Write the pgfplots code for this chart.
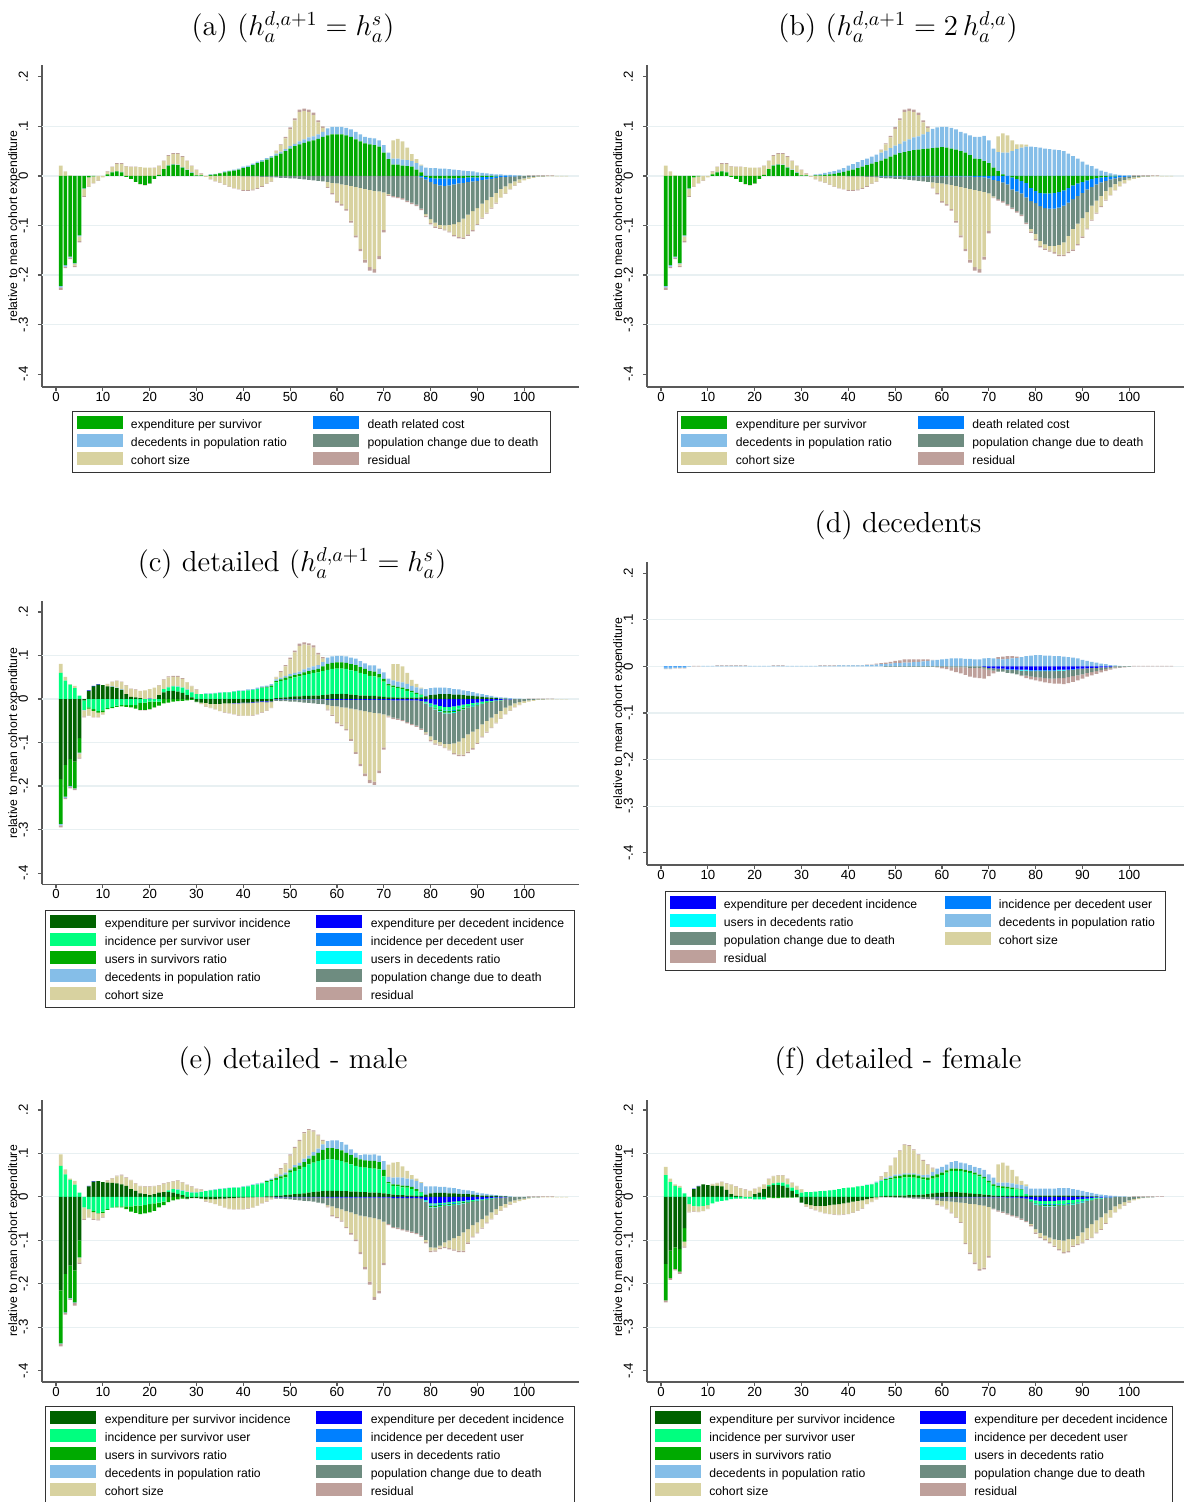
\documentclass[border=0pt]{standalone}
\usepackage{pgfplots}
\pgfplotsset{compat=1.18}
\usepackage{pgfplotstable}
\usepackage{fontspec}
\setsansfont{Liberation Sans}
\definecolor{cES}{RGB}{0,170,0}
\definecolor{cEI}{RGB}{0,98,0}
\definecolor{cIU}{RGB}{0,255,127}
\definecolor{cDI}{RGB}{0,0,255}
\definecolor{cDR}{RGB}{0,128,255}
\definecolor{cUD}{RGB}{0,255,255}
\definecolor{cDP}{RGB}{133,190,232}
\definecolor{cPC}{RGB}{110,140,128}
\definecolor{cCS}{RGB}{216,210,160}
\definecolor{cRE}{RGB}{190,160,155}
\definecolor{cGrid}{RGB}{232,240,242}
\newcommand\tkfont{\fontsize{6.6}{7.5}\sffamily}
\newcommand\legfont{\fontsize{6.1}{7}\sffamily}

\pgfplotstableread[row sep=\\]{
a es dr dp pc cs re\\
1 -222 0 -3 0 21 -5\\
2 -180 0 -3 0 9 -3\\
3 -163 0 -2 0 1 -3\\
4 -176 0 -1 0 -4 -3\\
5 -120 0 -2 0 -9 -3\\
6 -25 0 -1 0 -14 -2\\
7 -3 0 0 0 -18 -1\\
8 -1 0 0 0 -13 -1\\
9 0 0 0 0 -9 -1\\
10 0 0 0 0 -3 0\\
11 3 0 0 0 5 1\\
12 7 0 1 0 10 1\\
13 9 0 1 0 14 2\\
14 7 0 1 0 16 2\\
15 -2 0 0 0 19 1\\
16 -6 0 0 0 18 1\\
17 -12 0 0 0 18 1\\
18 -16 0 0 0 18 -1\\
19 -18 0 0 0 17 -1\\
20 -15 0 0 0 17 -1\\
21 -6 0 0 0 16 1\\
22 2 0 0 0 18 1\\
23 14 0 0 0 16 1\\
24 21 0 1 0 18 2\\
25 23 0 1 0 20 2\\
26 22 0 1 0 21 2\\
27 17 0 1 0 20 2\\
28 12 0 1 0 17 1\\
29 6 0 1 0 13 1\\
30 1 0 0 0 11 1\\
31 1 0 0 0 3 1\\
32 0 0 0 0 -2 0\\
33 2 0 1 0 -6 -1\\
34 3 0 1 0 -10 -1\\
35 5 0 1 0 -13 -1\\
36 7 0 2 0 -17 -1\\
37 9 0 2 0 -21 -1\\
38 11 0 2 0 -24 -1\\
39 13 0 2 0 -26 -1\\
40 16 0 3 -1 -27 -2\\
41 18 0 3 -1 -27 -2\\
42 22 0 3 -1 -26 -2\\
43 26 0 3 -1 -23 -2\\
44 29 0 3 -2 -18 -2\\
45 33 0 3 -2 -13 -1\\
46 37 0 3 -3 -8 -1\\
47 41 0 4 -3 5 1\\
48 45 0 4 -4 13 2\\
49 50 0 4 -4 22 3\\
50 55 0 5 -5 34 4\\
51 60 0 5 -5 47 4\\
52 64 0 6 -6 59 5\\
53 67 0 7 -7 57 5\\
54 70 0 8 -8 51 5\\
55 72 0 8 -9 43 5\\
56 75 0 9 -10 24 4\\
57 79 0 10 -11 8 3\\
58 82 0 14 -12 -10 -2\\
59 84 0 15 -14 -20 -3\\
60 84 0 15 -15 -36 -3\\
61 84 0 15 -17 -40 -3\\
62 82 0 15 -18 -49 -3\\
63 79 0 15 -20 -70 -4\\
64 74 0 15 -22 -98 -4\\
65 70 0 14 -24 -123 -5\\
66 66 0 13 -26 -143 -6\\
67 64 0 13 -28 -156 -7\\
68 62 0 14 -30 -158 -7\\
69 59 0 13 -31 -131 -6\\
70 47 0 15 -33 -76 -5\\
71 34 0 13 -36 -2 -2\\
72 23 0 12 -40 37 -3\\
73 23 0 12 -42 40 -3\\
74 21 0 12 -45 37 -3\\
75 20 0 12 -50 25 -3\\
76 19 0 11 -54 14 -3\\
77 13 0 13 -58 8 -3\\
78 7 -3 14 -63 2 -3\\
79 -2 -5 17 -70 -3 -3\\
80 -4 -8 16 -75 -8 -3\\
81 -5 -11 16 -78 -8 -3\\
82 -5 -14 15 -80 -6 -2\\
83 -5 -15 15 -80 -8 -2\\
84 -5 -14 14 -80 -13 -2\\
85 -5 -12 13 -80 -22 -3\\
86 -4 -11 12 -78 -30 -3\\
87 -4 -10 11 -72 -38 -3\\
88 -3 -9 10 -66 -40 -3\\
89 -3 -8 9 -60 -38 -3\\
90 -3 -7 7 -55 -32 -2\\
91 -2 -6 6 -48 -28 -2\\
92 -2 -5 5 -42 -25 -2\\
93 -2 -4 4 -36 -22 -2\\
94 -1 -3 3 -30 -20 -2\\
95 0 -2 3 -24 -17 -1\\
96 0 -2 2 -19 -14 -1\\
97 0 -1 2 -14 -11 -1\\
98 0 -1 1 -10 -8 -1\\
99 0 0 1 -7 -6 -1\\
100 0 0 0 -5 -4 0\\
101 0 0 0 -3 -3 1\\
102 0 0 0 -2 -2 1\\
103 0 0 0 -1 -1 1\\
104 0 0 0 -1 -1 1\\
105 0 0 0 0 -1 1\\
106 0 0 0 0 -1 1\\
107 0 0 0 0 -1 0\\
108 0 0 0 0 -1 0\\
109 0 0 0 0 -1 0\\
}\tabA

\pgfplotstableread[row sep=\\]{
a es dr dp pc cs re\\
1 -222 0 -3 0 21 -5\\
2 -180 0 -3 0 9 -3\\
3 -163 0 -2 0 1 -3\\
4 -176 0 -1 0 -4 -3\\
5 -120 0 -2 0 -9 -3\\
6 -25 0 -1 0 -14 -2\\
7 -3 0 0 0 -18 -1\\
8 -1 0 0 0 -13 -1\\
9 0 0 0 0 -9 -1\\
10 0 0 0 0 -3 0\\
11 3 0 0 0 5 1\\
12 7 0 1 0 10 1\\
13 9 0 1 0 14 2\\
14 7 0 1 0 16 2\\
15 -2 0 0 0 19 1\\
16 -6 0 0 0 18 1\\
17 -12 0 0 0 18 1\\
18 -16 0 0 0 18 -1\\
19 -18 0 0 0 17 -1\\
20 -15 0 0 0 17 -1\\
21 -6 0 0 0 16 1\\
22 2 0 0 0 18 1\\
23 14 0 0 0 16 1\\
24 21 0 1 0 18 2\\
25 23 0 1 0 20 2\\
26 22 0 1 0 21 2\\
27 17 0 1 0 20 2\\
28 12 0 1 0 17 1\\
29 6 0 1 0 13 1\\
30 1 0 0 0 11 1\\
31 1 0 0 0 3 1\\
32 0 0 0 0 -2 0\\
33 1 0 2 0 -6 -1\\
34 1 0 3 0 -10 -1\\
35 2 0 4 0 -13 -1\\
36 3 0 5 0 -17 -1\\
37 4 0 6 0 -21 -1\\
38 6 0 7 0 -24 -1\\
39 8 0 8 0 -26 -1\\
40 11 0 10 -1 -27 -2\\
41 13 0 11 -1 -27 -2\\
42 16 0 12 -1 -26 -2\\
43 19 0 13 -1 -23 -2\\
44 22 0 13 -2 -18 -2\\
45 25 0 14 -2 -13 -1\\
46 28 0 15 -3 -8 -1\\
47 31 -1 16 -3 5 1\\
48 35 -1 16 -4 13 2\\
49 39 -1 17 -4 22 3\\
50 43 -1 18 -5 34 4\\
51 46 -1 19 -5 47 4\\
52 48 -1 22 -6 59 5\\
53 50 -1 24 -7 57 5\\
54 52 -1 26 -8 51 5\\
55 53 -1 27 -9 43 5\\
56 54 -1 30 -10 24 4\\
57 55 -1 34 -11 8 3\\
58 56 -1 39 -12 -10 -2\\
59 57 -1 41 -13 -20 -3\\
60 58 -1 41 -14 -36 -3\\
61 57 -1 42 -16 -40 -3\\
62 55 -1 42 -17 -49 -3\\
63 53 -1 41 -19 -70 -4\\
64 50 -1 39 -21 -98 -4\\
65 47 -1 39 -23 -123 -5\\
66 42 -1 40 -25 -143 -6\\
67 35 -2 44 -26 -156 -7\\
68 34 -2 45 -28 -158 -7\\
69 30 -3 51 -29 -131 -6\\
70 26 -5 46 -30 -76 -5\\
71 17 -8 38 -33 -2 -2\\
72 10 -10 38 -37 32 -3\\
73 3 -13 44 -38 39 -3\\
74 0 -17 47 -40 35 -3\\
75 -3 -24 50 -37 22 -3\\
76 -6 -25 54 -40 10 -3\\
77 -10 -25 57 -43 7 -3\\
78 -14 -29 59 -51 4 -3\\
79 -24 -27 59 -56 -5 -3\\
80 -30 -25 58 -62 -10 -3\\
81 -34 -27 57 -70 -10 -3\\
82 -35 -30 55 -73 -8 -3\\
83 -35 -31 54 -75 -9 -3\\
84 -34 -32 53 -75 -13 -3\\
85 -32 -32 52 -75 -20 -3\\
86 -29 -31 50 -74 -25 -3\\
87 -24 -30 45 -67 -32 -3\\
88 -19 -28 40 -60 -41 -3\\
89 -15 -25 35 -56 -41 -3\\
90 -12 -22 29 -51 -37 -3\\
91 -9 -18 23 -46 -33 -2\\
92 -6 -16 20 -38 -28 -2\\
93 -4 -13 15 -33 -24 -2\\
94 -3 -10 11 -27 -21 -2\\
95 -2 -8 8 -20 -18 -2\\
96 -1 -6 5 -16 -15 -1\\
97 -1 -4 3 -11 -12 -1\\
98 0 -3 2 -8 -9 -1\\
99 0 -2 1 -6 -6 -1\\
100 0 -1 1 -4 -4 0\\
101 0 0 0 -3 -3 1\\
102 0 0 0 -2 -2 1\\
103 0 0 0 -1 -1 1\\
104 0 0 0 -1 -1 1\\
105 0 0 0 0 -1 1\\
106 0 0 0 0 -1 1\\
107 0 0 0 0 -1 0\\
108 0 0 0 0 -1 0\\
109 0 0 0 0 -1 0\\
}\tabB

\pgfplotstableread[row sep=\\]{
a ei di iu id us ud dp pc cs re\\
1 -184 0 60 0 -103 0 -3 0 21 -5\\
2 -151 0 42 0 -73 0 -3 0 9 -3\\
3 -138 0 33 0 -62 0 -2 0 1 -3\\
4 -144 0 25 0 -61 0 -1 0 5 -3\\
5 -90 0 8 0 -33 0 -2 0 -9 -3\\
6 -3 0 -22 0 0 0 -1 0 -14 -2\\
7 19 1 -19 0 -3 0 0 0 -16 -1\\
8 29 1 -23 1 -4 0 0 0 -14 -1\\
9 33 1 -28 0 -3 0 0 0 -10 -1\\
10 32 0 -26 0 -4 0 0 0 -5 -1\\
11 29 0 -21 0 -2 0 0 0 5 1\\
12 28 0 -18 0 -3 0 1 0 10 1\\
13 25 0 -15 0 -3 0 1 0 15 1\\
14 21 0 -14 0 -3 0 1 0 17 1\\
15 11 0 -14 0 -4 0 0 0 20 1\\
16 5 0 -14 0 -5 0 0 0 18 1\\
17 4 0 -14 0 -8 0 0 0 17 1\\
18 2 0 -9 0 -16 0 0 0 17 -1\\
19 0 0 -8 0 -17 0 0 0 20 -1\\
20 0 1 -6 0 -17 0 0 0 22 -1\\
21 0 0 -6 0 -13 0 0 0 26 -1\\
22 9 0 -6 0 -9 0 0 0 22 1\\
23 15 0 8 0 -10 0 0 0 21 1\\
24 18 0 9 0 -8 0 1 0 22 2\\
25 19 0 10 0 -6 0 1 0 21 2\\
26 17 0 11 0 -5 0 1 0 22 2\\
27 14 0 12 0 -4 0 1 0 19 2\\
28 9 0 12 0 -3 0 1 0 16 1\\
29 4 0 11 0 -2 0 1 0 13 1\\
30 -6 0 11 0 -1 0 0 0 10 1\\
31 -8 0 11 0 0 0 0 0 -3 -1\\
32 -9 0 12 0 0 0 1 0 -8 -1\\
33 -11 0 12 0 0 0 1 0 -9 -1\\
34 -11 0 13 0 0 0 1 0 -12 -1\\
35 -11 0 14 0 0 0 1 0 -16 -1\\
36 -10 0 15 0 0 0 1 0 -20 -1\\
37 -10 0 15 0 0 0 1 0 -22 -1\\
38 -9 -1 17 0 0 0 1 0 -24 -1\\
39 -9 -1 18 0 0 0 2 0 -27 -1\\
40 -8 -1 18 0 0 0 2 -1 -28 -1\\
41 -8 -1 20 0 0 0 2 -1 -28 -1\\
42 -7 -1 21 0 0 0 2 -1 -28 -1\\
43 -6 -1 23 0 0 0 3 -1 -26 -1\\
44 -5 -1 25 0 1 0 3 -1 -23 -1\\
45 -5 -1 26 0 2 0 3 -2 -18 -1\\
46 -4 -1 28 0 3 0 3 -2 -13 -1\\
47 2 -1 36 0 3 0 4 -3 5 1\\
48 3 -1 38 0 4 0 4 -4 13 2\\
49 4 -1 40 0 5 0 4 -4 22 3\\
50 5 -1 42 0 5 0 5 -5 34 4\\
51 6 -1 44 0 5 0 5 -5 47 4\\
52 6 -1 46 0 5 0 6 -6 59 5\\
53 7 -1 48 0 6 0 7 -7 57 5\\
54 7 -1 50 0 7 0 8 -8 51 5\\
55 8 -1 52 0 7 0 8 -9 43 5\\
56 8 -1 53 0 8 0 9 -10 24 4\\
57 9 -1 55 0 11 0 10 -11 8 3\\
58 10 -2 57 0 14 0 14 -12 -10 -2\\
59 11 -2 58 0 14 0 15 -14 -20 -3\\
60 11 -2 59 0 14 0 15 -15 -36 -3\\
61 12 -2 58 0 14 0 15 -17 -40 -3\\
62 11 -2 58 0 14 0 15 -18 -49 -3\\
63 10 -2 56 0 14 0 15 -20 -70 -4\\
64 9 -2 55 0 14 0 15 -22 -98 -4\\
65 8 -2 52 0 13 0 14 -24 -123 -5\\
66 8 -2 49 0 12 0 13 -26 -143 -6\\
67 7 -2 46 0 11 0 13 -28 -156 -7\\
68 7 -2 45 0 11 0 14 -30 -158 -7\\
69 6 -2 43 0 8 0 13 -31 -131 -6\\
70 5 -2 35 0 6 0 15 -33 -76 -5\\
71 4 -2 27 0 3 0 13 -36 -2 -2\\
72 4 -3 23 0 4 0 12 -40 37 -3\\
73 3 -3 22 0 3 0 12 -42 40 -3\\
74 3 -3 20 0 3 0 12 -45 37 -3\\
75 3 -3 16 0 4 0 12 -50 25 -3\\
76 3 -3 12 0 4 0 11 -54 14 -3\\
77 3 -3 8 0 3 0 13 -58 8 -3\\
78 4 -4 5 0 1 -1 14 -63 2 -3\\
79 6 -6 -2 0 -1 -1 17 -66 -3 -3\\
80 9 -10 -4 -1 -2 -1 16 -68 -8 -3\\
81 10 -13 -6 -1 -2 -2 16 -70 -8 -3\\
82 11 -16 -7 -1 -3 -2 15 -70 -6 -2\\
83 11 -18 -8 -2 -3 -2 15 -70 -8 -2\\
84 11 -18 -8 -2 -3 -2 14 -70 -13 -2\\
85 10 -17 -8 -2 -3 -2 13 -70 -22 -3\\
86 10 -15 -7 -2 -3 -1 12 -70 -30 -3\\
87 9 -13 -6 -1 -3 -1 11 -66 -38 -3\\
88 8 -11 -5 -1 -2 -1 10 -61 -40 -3\\
89 7 -9 -5 -1 -2 -1 9 -57 -38 -3\\
90 6 -8 -4 -1 -2 -1 7 -53 -32 -2\\
91 5 -6 -3 0 -1 -1 6 -47 -28 -2\\
92 4 -5 -2 0 -1 0 5 -42 -25 -2\\
93 3 -4 -2 0 -1 0 4 -36 -22 -2\\
94 2 -3 -1 0 0 0 3 -30 -20 -2\\
95 1 -2 -1 0 0 0 3 -24 -17 -1\\
96 1 -1 0 0 0 0 2 -19 -14 -1\\
97 0 -1 0 0 0 0 2 -14 -11 -1\\
98 0 0 0 0 0 0 1 -10 -8 -1\\
99 0 0 0 0 0 0 1 -7 -6 -1\\
100 0 0 0 0 0 0 0 -5 -4 0\\
101 0 0 0 0 0 0 0 -3 -3 1\\
102 0 0 0 0 0 0 0 -2 -2 1\\
103 0 0 0 0 0 0 0 -1 -1 1\\
104 0 0 0 0 0 0 0 -1 -1 1\\
105 0 0 0 0 0 0 0 0 -1 1\\
106 0 0 0 0 0 0 0 0 -1 1\\
107 0 0 0 0 0 0 0 0 -1 0\\
108 0 0 0 0 0 0 0 0 -1 0\\
109 0 0 0 0 0 0 0 0 -1 0\\
}\tabC

\pgfplotstableread[row sep=\\]{
a di id ud dp pc cs re\\
1 0 -2 0 -3 0 0 -1\\
2 0 -2 0 -3 0 0 -1\\
3 0 -1 0 -2 0 0 -1\\
4 0 -1 0 -2 0 0 -1\\
5 0 -1 0 -2 0 0 -1\\
6 0 0 0 -1 0 0 0\\
7 0 0 0 0 0 0 1\\
8 0 0 0 0 0 0 1\\
9 0 0 0 1 0 0 0\\
10 0 0 0 1 0 0 0\\
11 0 0 0 1 0 0 0\\
12 0 0 0 1 0 0 1\\
13 0 0 0 1 0 0 1\\
14 0 0 0 1 0 0 1\\
15 0 0 0 1 0 0 1\\
16 0 0 0 1 0 0 1\\
17 0 0 0 1 0 0 1\\
18 0 0 0 1 0 0 1\\
19 0 0 0 1 0 0 0\\
20 0 0 0 1 0 0 0\\
21 0 0 0 1 0 0 0\\
22 0 0 0 1 0 0 0\\
23 0 0 0 1 0 0 0\\
24 0 0 0 1 0 0 1\\
25 0 0 0 1 0 0 1\\
26 0 0 0 1 0 0 1\\
27 0 0 0 1 0 0 0\\
28 0 0 0 1 0 0 0\\
29 0 0 0 1 0 0 0\\
30 0 0 0 1 0 0 0\\
31 0 0 0 1 0 0 0\\
32 0 0 0 1 0 0 0\\
33 0 0 0 1 0 0 0\\
34 0 0 0 1 0 0 1\\
35 0 0 0 1 0 0 1\\
36 0 0 0 1 0 0 1\\
37 0 0 0 1 0 0 1\\
38 0 0 0 2 0 0 1\\
39 0 0 0 2 0 0 1\\
40 0 0 0 2 0 0 1\\
41 0 0 0 2 0 0 1\\
42 0 0 0 2 0 0 1\\
43 0 0 0 2 0 0 1\\
44 0 0 0 3 0 0 1\\
45 0 0 0 3 0 0 1\\
46 0 0 0 4 0 0 2\\
47 0 0 0 5 0 0 2\\
48 0 0 0 5 -1 0 3\\
49 0 0 0 6 -1 0 4\\
50 0 0 0 7 -1 0 5\\
51 0 0 0 7 -1 0 6\\
52 0 0 0 8 -1 0 7\\
53 0 0 0 8 -1 0 7\\
54 0 0 0 9 -1 0 6\\
55 0 0 0 10 -1 0 5\\
56 0 0 0 11 -1 0 4\\
57 0 0 0 12 -1 0 3\\
58 0 0 0 13 -1 0 1\\
59 0 0 0 14 -1 0 -1\\
60 0 0 0 15 -1 0 -3\\
61 0 0 0 16 -1 0 -5\\
62 0 0 0 17 -2 0 -7\\
63 0 0 0 17 -2 0 -10\\
64 0 0 0 17 -2 0 -13\\
65 0 0 0 16 -2 0 -16\\
66 0 0 0 16 -3 0 -19\\
67 0 0 0 15 -3 0 -21\\
68 0 0 0 15 -3 0 -22\\
69 -1 0 0 17 -4 0 -21\\
70 -3 0 0 18 -4 0 -14\\
71 -4 0 0 17 -5 0 -6\\
72 -5 0 0 16 -6 0 4\\
73 -5 0 0 15 -6 0 6\\
74 -6 -1 0 16 -7 0 6\\
75 -6 -1 0 17 -8 0 5\\
76 -7 -1 0 18 -9 0 3\\
77 -7 -1 -1 20 -10 0 -2\\
78 -7 -1 -1 22 -11 0 -5\\
79 -8 -1 -1 23 -12 0 -6\\
80 -8 -1 -1 24 -13 0 -7\\
81 -8 -1 -1 24 -14 0 -8\\
82 -8 -1 -1 23 -15 0 -9\\
83 -8 -1 -1 23 -16 0 -10\\
84 -8 -1 -1 22 -16 0 -11\\
85 -7 -1 -1 22 -16 0 -12\\
86 -7 -1 -1 21 -16 0 -13\\
87 -7 -1 0 20 -15 0 -13\\
88 -6 -1 0 19 -14 0 -12\\
89 -5 -1 0 17 -13 0 -11\\
90 -5 0 0 14 -12 0 -9\\
91 -4 0 0 12 -10 0 -8\\
92 -3 0 0 10 -9 0 -7\\
93 -3 0 0 8 -7 0 -6\\
94 -2 0 0 6 -6 0 -5\\
95 -2 0 0 5 -4 0 -4\\
96 -1 0 0 3 -3 0 -3\\
97 0 0 0 2 -2 0 -2\\
98 0 0 0 1 -2 0 -1\\
99 0 0 0 0 -1 0 -1\\
100 0 0 0 0 -1 0 0\\
101 0 0 0 0 0 0 1\\
102 0 0 0 0 0 0 1\\
103 0 0 0 0 0 0 1\\
104 0 0 0 0 0 0 1\\
105 0 0 0 0 0 0 1\\
106 0 0 0 0 0 0 1\\
107 0 0 0 0 0 0 1\\
108 0 0 0 0 0 0 1\\
109 0 0 0 0 0 0 1\\
}\tabD

\pgfplotstableread[row sep=\\]{
a ei di iu id us ud dp pc cs re\\
1 -215 0 71 0 -122 0 -1 0 27 -6\\
2 -177 0 52 0 -89 0 -1 0 11 -4\\
3 -158 0 39 0 -75 0 -1 0 3 -3\\
4 -169 0 28 0 -74 0 -1 0 9 -6\\
5 -100 0 10 0 -39 0 -1 0 -11 -3\\
6 0 0 -24 0 0 0 0 0 -27 -2\\
7 24 1 -28 0 0 0 0 0 -19 -1\\
8 35 1 -32 0 -3 0 0 0 -16 -2\\
9 36 0 -37 0 -1 0 0 0 -14 -2\\
10 34 0 -34 0 -3 0 0 0 -9 -2\\
11 33 0 -28 0 -2 0 0 0 4 1\\
12 32 0 -24 0 -1 0 0 0 10 1\\
13 31 0 -22 0 -2 0 0 0 16 2\\
14 29 0 -22 0 -2 0 0 0 20 2\\
15 25 0 -22 0 -6 0 0 0 18 2\\
16 18 0 -22 0 -12 0 0 0 20 1\\
17 14 0 -20 0 -17 0 0 0 16 1\\
18 8 0 -20 0 -20 0 0 0 16 1\\
19 6 0 -19 0 -19 0 0 0 17 1\\
20 4 0 -17 0 -19 0 0 0 19 1\\
21 6 0 -15 0 -17 0 0 0 18 1\\
22 10 0 -13 0 -11 0 0 0 16 1\\
23 11 0 -11 0 -8 0 0 0 19 1\\
24 11 0 4 0 -12 0 0 0 18 1\\
25 10 0 8 0 -8 0 0 0 17 1\\
26 7 0 9 0 -6 0 1 0 20 1\\
27 4 0 10 0 -4 0 1 0 18 1\\
28 -4 0 11 0 -1 0 1 0 15 1\\
29 -3 0 10 0 0 0 1 0 12 1\\
30 -3 0 10 0 0 0 1 0 7 1\\
31 -4 0 11 0 0 0 1 0 4 1\\
32 -5 0 13 0 0 0 1 0 -5 -1\\
33 -5 0 15 0 0 0 1 0 -8 -1\\
34 -5 0 16 0 0 0 1 0 -11 -1\\
35 -4 0 18 0 0 0 1 0 -16 -1\\
36 -4 0 19 0 0 0 1 0 -20 -1\\
37 -3 0 20 0 0 0 1 0 -24 -1\\
38 -3 0 21 0 0 0 1 0 -25 -1\\
39 -2 0 21 0 0 0 1 0 -26 -1\\
40 -2 0 23 0 0 0 1 0 -26 -1\\
41 -1 0 24 0 0 0 2 0 -25 -1\\
42 -1 0 27 0 0 0 2 0 -23 -1\\
43 0 0 29 0 0 0 2 -1 -19 -1\\
44 0 0 31 0 0 0 2 -1 -13 -1\\
45 1 0 33 0 2 0 2 -2 -8 -1\\
46 1 0 36 0 2 0 3 -2 -3 -1\\
47 2 -1 37 0 4 0 3 -3 6 1\\
48 3 -1 39 0 5 0 4 -3 13 2\\
49 4 -1 41 0 6 0 5 -4 19 2\\
50 5 -1 51 0 5 0 4 -5 30 3\\
51 6 -1 54 0 8 0 5 -6 39 3\\
52 7 -1 56 0 9 0 6 -7 50 3\\
53 8 -1 61 0 11 0 8 -8 58 3\\
54 10 -1 65 0 13 0 7 -9 58 3\\
55 11 -1 68 0 16 0 8 -10 47 3\\
56 12 -1 70 0 19 0 10 -12 30 2\\
57 13 -1 72 0 23 0 13 -14 8 2\\
58 14 -2 72 0 26 0 16 -17 -3 -2\\
59 14 -2 72 0 26 0 18 -20 -20 -3\\
60 14 -2 71 0 25 0 20 -24 -20 -3\\
61 13 -2 69 0 25 0 19 -27 -25 -3\\
62 13 -2 66 0 22 0 19 -31 -36 -3\\
63 12 -2 63 0 21 0 13 -34 -47 -4\\
64 12 -2 59 0 19 0 11 -38 -58 -4\\
65 11 -2 58 0 17 0 10 -41 -84 -5\\
66 11 -2 56 0 17 0 14 -43 -116 -6\\
67 10 -2 56 0 17 0 14 -45 -148 -7\\
68 10 -2 55 0 18 0 15 -47 -181 -7\\
69 9 -2 54 0 17 0 15 -50 -164 -6\\
70 8 -2 39 0 15 0 20 -55 -95 -5\\
71 6 -2 25 0 3 0 12 -60 28 -3\\
72 5 -3 20 0 4 0 15 -66 35 -3\\
73 4 -3 20 0 4 0 17 -68 35 -3\\
74 4 -3 18 0 4 0 18 -71 26 -3\\
75 3 -3 18 0 4 0 17 -74 18 -3\\
76 3 -3 15 0 5 0 17 -77 10 -3\\
77 2 -3 12 0 4 0 19 -80 5 -3\\
78 2 -4 8 0 1 0 21 -85 2 -3\\
79 5 -7 -1 -1 -1 -1 19 -88 -5 -3\\
80 8 -15 -3 -2 -3 -1 16 -92 -8 -3\\
81 9 -15 -3 -2 -3 -1 15 -93 -6 -3\\
82 9 -14 -3 -2 -3 -1 14 -89 -5 -3\\
83 9 -13 -3 -2 -2 -1 14 -84 -10 -3\\
84 8 -12 -3 -2 -2 -1 13 -80 -18 -3\\
85 8 -11 -3 -2 -2 -1 12 -76 -26 -3\\
86 7 -10 -3 -2 -2 -1 11 -72 -34 -3\\
87 6 -9 -2 -1 -2 -1 10 -67 -42 -3\\
88 6 -8 -2 -1 -2 -1 9 -60 -31 -3\\
89 5 -7 -2 -1 -1 0 8 -54 -26 -2\\
90 4 -6 -2 -1 -1 0 6 -49 -23 -2\\
91 3 -5 -1 -1 -1 0 5 -43 -20 -2\\
92 3 -4 -1 -1 -1 0 4 -36 -16 -2\\
93 2 -3 -1 0 -1 0 3 -31 -14 -2\\
94 2 -2 -1 0 0 0 2 -25 -12 -1\\
95 1 -2 0 0 0 0 2 -19 -10 -1\\
96 1 -1 0 0 0 0 1 -15 -8 -1\\
97 0 0 0 0 0 0 1 -11 -6 -1\\
98 0 0 0 0 0 0 0 -8 -5 -1\\
99 0 0 0 0 0 0 0 -6 -4 0\\
100 0 0 0 0 0 0 0 -4 -3 0\\
101 0 0 0 0 0 0 0 -2 -2 1\\
102 0 0 0 0 0 0 0 -1 -1 1\\
103 0 0 0 0 0 0 0 -1 -1 1\\
104 0 0 0 0 0 0 0 0 -1 1\\
105 0 0 0 0 0 0 0 0 -1 1\\
106 0 0 0 0 0 0 0 0 -1 1\\
107 0 0 0 0 0 0 0 0 -1 0\\
108 0 0 0 0 0 0 0 0 -1 0\\
109 0 0 0 0 0 0 0 0 -1 0\\
}\tabE

\pgfplotstableread[row sep=\\]{
a ei di iu id us ud dp pc cs re\\
1 -154 0 50 0 -84 0 0 0 19 -5\\
2 -124 0 34 0 -63 0 0 0 8 -4\\
3 -116 0 25 0 -50 0 0 0 4 -3\\
4 -120 0 21 0 -52 0 0 0 4 -5\\
5 -72 0 8 0 -31 0 0 0 -11 -3\\
6 0 0 -17 0 0 0 0 0 -17 -2\\
7 18 1 -21 0 0 0 0 0 -12 -1\\
8 24 1 -22 0 0 0 0 0 -12 -1\\
9 29 0 -21 0 0 0 0 0 -11 -1\\
10 27 0 -19 0 0 0 0 0 -8 -1\\
11 25 0 -15 0 0 0 0 0 4 1\\
12 25 0 -11 0 0 0 0 0 6 1\\
13 24 0 -9 0 0 0 0 0 10 1\\
14 16 0 -8 0 0 0 0 0 14 1\\
15 6 0 -5 0 0 0 0 0 22 1\\
16 2 0 -4 0 0 0 0 0 21 1\\
17 1 0 -4 0 0 0 0 0 18 1\\
18 0 0 -4 0 0 0 0 0 16 1\\
19 0 0 -4 0 0 0 0 0 13 1\\
20 6 0 -6 0 0 0 0 0 12 1\\
21 10 0 -6 0 0 0 0 0 12 1\\
22 18 0 -6 0 0 0 0 0 10 1\\
23 24 0 3 0 -2 0 0 0 14 1\\
24 27 0 4 0 -3 0 0 0 16 1\\
25 27 0 6 0 -3 0 0 0 16 1\\
26 25 0 8 0 -2 0 0 0 16 1\\
27 21 0 8 0 -2 0 0 0 12 1\\
28 14 0 7 0 -2 0 0 0 11 1\\
29 6 0 10 0 -1 0 0 0 8 1\\
30 -13 0 10 0 0 0 0 0 7 1\\
31 -17 0 11 0 0 0 0 0 -5 -1\\
32 -19 0 11 0 0 0 0 0 -7 -1\\
33 -21 0 12 0 0 0 0 0 -9 -1\\
34 -21 0 13 0 0 0 0 0 -13 -1\\
35 -21 0 14 0 0 0 0 0 -16 -1\\
36 -19 0 15 0 0 0 0 0 -20 -1\\
37 -18 0 16 0 0 0 0 0 -22 -1\\
38 -17 0 18 0 0 0 0 0 -24 -1\\
39 -15 0 20 0 0 0 0 0 -25 -1\\
40 -13 0 21 0 0 0 0 0 -26 -1\\
41 -11 0 22 0 0 0 0 0 -25 -1\\
42 -9 0 24 0 0 0 0 0 -22 -1\\
43 -8 0 25 0 0 0 0 0 -18 -1\\
44 -5 0 27 0 0 0 1 0 -11 -1\\
45 -3 0 29 0 0 0 1 0 -8 -1\\
46 -1 0 33 0 0 0 2 0 -4 -1\\
47 1 0 35 0 0 0 3 -1 7 1\\
48 2 0 37 0 2 0 3 -1 12 1\\
49 2 0 38 0 3 0 4 -1 24 1\\
50 3 0 39 0 5 0 4 -2 38 1\\
51 3 0 40 0 5 0 4 -2 53 2\\
52 3 0 42 0 6 0 3 -3 65 2\\
53 4 0 41 0 6 0 3 -3 63 2\\
54 4 0 40 0 7 0 3 -4 53 2\\
55 4 0 39 0 6 0 3 -4 44 2\\
56 5 0 35 0 5 0 5 -5 33 2\\
57 6 0 33 0 5 0 7 -5 22 2\\
58 8 0 34 0 6 0 9 -6 8 2\\
59 9 -1 35 0 8 0 13 -7 -9 -2\\
60 10 -1 40 0 6 0 13 -8 -11 -2\\
61 11 -1 45 0 5 0 13 -9 -17 -2\\
62 11 -1 49 0 5 0 15 -10 -25 -2\\
63 11 -1 49 0 5 0 17 -11 -34 -2\\
64 10 -1 50 0 4 0 15 -12 -45 -2\\
65 9 -1 48 0 5 0 15 -13 -92 -3\\
66 8 -1 47 0 4 0 14 -15 -112 -4\\
67 7 -1 44 0 5 0 13 -16 -134 -4\\
68 6 -1 41 0 4 0 15 -18 -147 -4\\
69 5 -1 37 0 4 0 16 -19 -143 -4\\
70 4 -1 29 0 4 0 15 -22 -113 -4\\
71 3 -1 22 0 4 0 15 -26 0 -2\\
72 2 -1 19 0 4 0 8 -30 42 -3\\
73 2 -1 18 0 4 0 9 -33 46 -3\\
74 2 -2 17 0 4 0 10 -36 39 -3\\
75 2 -2 16 0 3 0 10 -40 31 -3\\
76 2 -2 15 0 2 0 10 -43 18 -3\\
77 2 -3 14 0 1 0 10 -47 10 -3\\
78 2 -4 4 0 0 0 18 -51 5 -3\\
79 3 -6 -3 -1 -1 -1 16 -50 -3 -3\\
80 3 -8 -6 -1 -2 -1 16 -56 -8 -3\\
81 3 -9 -7 -2 -2 -1 16 -62 -9 -3\\
82 3 -9 -8 -2 -2 -1 16 -67 -8 -3\\
83 3 -9 -8 -2 -2 -1 16 -72 -10 -3\\
84 3 -9 -8 -2 -2 -1 16 -76 -14 -3\\
85 3 -8 -8 -2 -2 -1 17 -78 -21 -3\\
86 3 -8 -8 -2 -2 -1 17 -80 -26 -3\\
87 3 -7 -7 -2 -2 -1 17 -78 -28 -3\\
88 2 -7 -7 -1 -2 -1 16 -79 -15 -3\\
89 2 -6 -6 -1 -2 -1 14 -74 -19 -2\\
90 2 -5 -5 -1 -1 -1 12 -69 -23 -2\\
91 1 -4 -4 -1 -1 0 10 -62 -25 -2\\
92 1 -3 -3 -1 -1 0 8 -55 -30 -2\\
93 1 -2 -2 0 -1 0 6 -49 -28 -2\\
94 0 -2 -2 0 0 0 5 -43 -27 -2\\
95 0 -1 -1 0 0 0 4 -36 -22 -2\\
96 0 -1 -1 0 0 0 3 -28 -17 -1\\
97 0 0 0 0 0 0 2 -22 -13 -1\\
98 0 0 0 0 0 0 1 -17 -10 -1\\
99 0 0 0 0 0 0 1 -12 -7 -1\\
100 0 0 0 0 0 0 0 -8 -4 -1\\
101 0 0 0 0 0 0 0 -5 -3 1\\
102 0 0 0 0 0 0 0 -3 -2 1\\
103 0 0 0 0 0 0 0 -2 -1 1\\
104 0 0 0 0 0 0 0 -1 -1 1\\
105 0 0 0 0 0 0 0 -1 0 1\\
106 0 0 0 0 0 0 0 0 0 1\\
107 0 0 0 0 0 0 0 0 0 1\\
108 0 0 0 0 0 0 0 0 0 0\\
109 0 0 0 0 0 0 0 0 0 0\\
}\tabF

\pgfplotsset{
  swatch/.style={legend image code/.code={\fill[##1] (0pt,-1.5pt) rectangle (23pt,4.85pt);}},
  base/.style={
    scale only axis, width=268.5pt, height=#1, anchor=south west,
    xmin=-3, xmax=111.7, ymin=-426, ymax=224,
    ybar stacked, bar width=0.78,
    axis x line*=bottom, axis y line*=left,
    axis line style={black!65, line width=0.9pt},
    tick style={black!65, line width=0.6pt},
    tick align=outside, major tick length=2pt,
    xtick={0,10,...,100},
    xticklabels={0,10,20,30,40,50,60,70,80,90,100},
    ytick={-400,-300,-200,-100,0,100,200},
    yticklabels={-.4,-.3,-.2,-.1,0,.1,.2},
    tick label style={font=\tkfont},
    xticklabel style={yshift=3pt},
    yticklabel style={rotate=90, anchor=south},
    yticklabel shift=1.5pt,
    extra y ticks={-300,-200,-100,0,100},
    extra y tick labels={},
    extra y tick style={major tick length=0pt, grid=major, major grid style={cGrid, line width=0.6pt}},
  },
  posax/.style={
    ylabel={relative to mean cohort expenditure},
    ylabel style={font=\legfont, at={(axis description cs:-0.052,0.5)}, anchor=center},
    legend columns=2, legend cell align=left,
    legend style={anchor=north west, draw=black!80, line width=0.5pt, fill=white,
      inner xsep=2.2pt, inner ysep=2.3pt, row sep=1.2pt, column sep=0pt,
      font=\legfont, nodes={inner sep=0pt}},
  },
  negax/.style={hide axis},
}
\newcommand\Pl[5]{\addplot[fill=#1,draw=none,swatch] table[x=a,y expr={max(\thisrow{#2},0)}]{#3};\addlegendentry{\makebox[#4][l]{\hspace{4.2pt}#5}}}
\newcommand\Nl[3]{\addplot[fill=#1,draw=none] table[x=a,y expr={min(\thisrow{#2},0)}]{#3};}

\newcommand\detailedpanel[6]{%
\begin{axis}[base=#3, at={#2}, posax, legend style={at={#4}}]
\Pl{cEI}{ei}{#1}{#5}{expenditure per survivor incidence}
\Pl{cDI}{di}{#1}{#6}{expenditure per decedent incidence}
\Pl{cIU}{iu}{#1}{#5}{incidence per survivor user}
\Pl{cDR}{id}{#1}{#6}{incidence per decedent user}
\Pl{cES}{us}{#1}{#5}{users in survivors ratio}
\Pl{cUD}{ud}{#1}{#6}{users in decedents ratio}
\Pl{cDP}{dp}{#1}{#5}{decedents in population ratio}
\Pl{cPC}{pc}{#1}{#6}{population change due to death}
\Pl{cCS}{cs}{#1}{#5}{cohort size}
\Pl{cRE}{re}{#1}{#6}{residual}
\end{axis}
\begin{axis}[base=#3, at={#2}, negax]
\Nl{cEI}{ei}{#1}
\Nl{cDI}{di}{#1}
\Nl{cIU}{iu}{#1}
\Nl{cDR}{id}{#1}
\Nl{cES}{us}{#1}
\Nl{cUD}{ud}{#1}
\Nl{cDP}{dp}{#1}
\Nl{cPC}{pc}{#1}
\Nl{cCS}{cs}{#1}
\Nl{cRE}{re}{#1}
\end{axis}}

\newcommand\simplepanel[3]{%
\begin{axis}[base=161pt, at={#2}, posax, legend style={at={#3}}]
\Pl{cES}{es}{#1}{95.3pt}{expenditure per survivor}
\Pl{cDR}{dr}{#1}{93.2pt}{death related cost}
\Pl{cDP}{dp}{#1}{95.3pt}{decedents in population ratio}
\Pl{cPC}{pc}{#1}{93.2pt}{population change due to death}
\Pl{cCS}{cs}{#1}{95.3pt}{cohort size}
\Pl{cRE}{re}{#1}{93.2pt}{residual}
\end{axis}
\begin{axis}[base=161pt, at={#2}, negax]
\Nl{cES}{es}{#1}
\Nl{cDR}{dr}{#1}
\Nl{cDP}{dp}{#1}
\Nl{cPC}{pc}{#1}
\Nl{cCS}{cs}{#1}
\Nl{cRE}{re}{#1}
\end{axis}}

\begin{document}
\begin{tikzpicture}
\simplepanel{\tabA}{(21pt,557.5pt)}{(0.0553,-0.0745)}
\simplepanel{\tabB}{(323.5pt,557.5pt)}{(0.055,-0.0745)}
\detailedpanel{\tabC}{(21pt,308.75pt)}{141.5pt}{(0.0065,-0.090)}{110pt}{104pt}
\detailedpanel{\tabE}{(21pt,60pt)}{141.25pt}{(0.0065,-0.085)}{110pt}{104pt}
\detailedpanel{\tabF}{(323.5pt,60pt)}{141.25pt}{(0.0056,-0.085)}{109.5pt}{101.3pt}
% panel d
\begin{axis}[base=151.5pt, at={(323.5pt,318.5pt)}, posax, legend style={at={(0.0328,-0.085)}}]
\Pl{cDI}{di}{\tabD}{114.5pt}{expenditure per decedent incidence}
\Pl{cDR}{id}{\tabD}{85.3pt}{incidence per decedent user}
\Pl{cUD}{ud}{\tabD}{114.5pt}{users in decedents ratio}
\Pl{cDP}{dp}{\tabD}{85.3pt}{decedents in population ratio}
\Pl{cPC}{pc}{\tabD}{114.5pt}{population change due to death}
\Pl{cCS}{cs}{\tabD}{85.3pt}{cohort size}
\Pl{cRE}{re}{\tabD}{114.5pt}{residual}
\end{axis}
\begin{axis}[base=151.5pt, at={(323.5pt,318.5pt)}, negax]
\Nl{cDI}{di}{\tabD}
\Nl{cDR}{id}{\tabD}
\Nl{cUD}{ud}{\tabD}
\Nl{cDP}{dp}{\tabD}
\Nl{cPC}{pc}{\tabD}
\Nl{cCS}{cs}{\tabD}
\Nl{cRE}{re}{\tabD}
\end{axis}
\begin{scope}[every node/.style={font=\fontsize{14.5}{17}\selectfont}]
\node at (146.5pt,737.5pt) {(a) $(h_a^{d,a+1} = h_a^s)$};
\node at (449pt,737.5pt) {(b) $(h_a^{d,a+1} = 2\,h_a^{d,a})$};
\node at (146pt,469.5pt) {(c) detailed $(h_a^{d,a+1} = h_a^s)$};
\node at (449pt,488.5pt) {(d) decedents};
\node at (146.5pt,220.5pt) {(e) detailed - male};
\node at (449pt,220.5pt) {(f) detailed - female};
\end{scope}
\pgfresetboundingbox
\path[use as bounding box] (0,0) rectangle (592pt,751pt);
\end{tikzpicture}
\end{document}
